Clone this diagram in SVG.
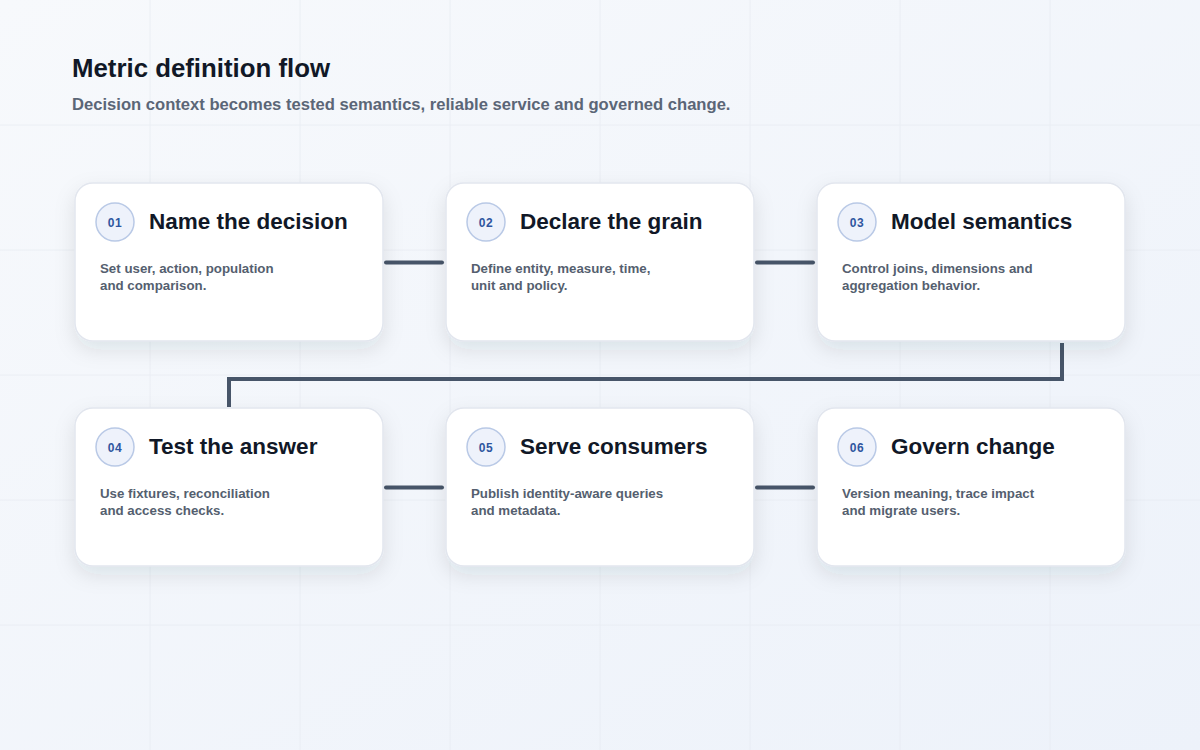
<svg xmlns="http://www.w3.org/2000/svg" width="1200" height="750" viewBox="0 0 1200 750">
<defs>
<linearGradient id="bg" x1="0" y1="0" x2="1" y2="1">
<stop offset="0" stop-color="#f7f9fc"/>
<stop offset="1" stop-color="#edf2fa"/>
</linearGradient>
<filter id="sh" x="-20%" y="-20%" width="140%" height="160%">
<feDropShadow dx="0" dy="8" stdDeviation="10" flood-color="#1e293b" flood-opacity="0.10"/>
</filter>
<style>
.card{fill:#ffffff;stroke:#e2e6ee;stroke-width:1.5}
.badge{fill:#eef2fb;stroke:#b9c9e6;stroke-width:1.5}
.num{font-family:"Liberation Sans",Arial,sans-serif;font-size:12px;font-weight:700;fill:#2f56a0;text-anchor:middle;letter-spacing:0.5px}
.title{font-family:"Liberation Sans",Arial,sans-serif;font-size:22.5px;font-weight:700;fill:#111827}
.body{font-family:"Liberation Sans",Arial,sans-serif;font-size:13.3px;font-weight:700;fill:#555f6f}
.conn{fill:none;stroke:#475569;stroke-width:4;stroke-linecap:round;stroke-linejoin:miter}
.grid{stroke:#e6eaf1;stroke-width:1}
</style>
</defs>
<rect width="1200" height="750" fill="url(#bg)"/>
<g id="grid" opacity="0.7">
<line class="grid" x1="150" y1="0" x2="150" y2="750"/>
<line class="grid" x1="300" y1="0" x2="300" y2="750"/>
<line class="grid" x1="450" y1="0" x2="450" y2="750"/>
<line class="grid" x1="600" y1="0" x2="600" y2="750"/>
<line class="grid" x1="750" y1="0" x2="750" y2="750"/>
<line class="grid" x1="900" y1="0" x2="900" y2="750"/>
<line class="grid" x1="1050" y1="0" x2="1050" y2="750"/>
<line class="grid" x1="0" y1="125" x2="1200" y2="125"/>
<line class="grid" x1="0" y1="250" x2="1200" y2="250"/>
<line class="grid" x1="0" y1="375" x2="1200" y2="375"/>
<line class="grid" x1="0" y1="500" x2="1200" y2="500"/>
<line class="grid" x1="0" y1="625" x2="1200" y2="625"/>
</g>
<g id="header">
<text x="72" y="77" font-family="Liberation Sans, Arial, sans-serif" font-size="25.8" font-weight="700" fill="#111827">Metric definition flow</text>
<text x="72" y="110" font-family="Liberation Sans, Arial, sans-serif" font-size="16.6" font-weight="700" fill="#5b6677">Decision context becomes tested semantics, reliable service and governed change.</text>
</g>
<g id="connectors">
<line class="conn" x1="386" y1="262.5" x2="442" y2="262.5"/>
<line class="conn" x1="757" y1="262.5" x2="813" y2="262.5"/>
<path class="conn" style="stroke-linecap:butt" d="M1062 343 V379 H229 V407"/>
<line class="conn" x1="386" y1="487.5" x2="442" y2="487.5"/>
<line class="conn" x1="757" y1="487.5" x2="813" y2="487.5"/>
</g>
<g id="node1">
<rect class="card" filter="url(#sh)" x="75" y="183" width="308" height="158" rx="18"/>
<circle class="badge" cx="115" cy="222" r="19"/>
<text class="num" x="115" y="226.5">01</text>
<text class="title" x="149" y="229">Name the decision</text>
<text class="body" x="100" y="273">Set user, action, population</text>
<text class="body" x="100" y="290">and comparison.</text>
</g>
<g id="node2">
<rect class="card" filter="url(#sh)" x="446" y="183" width="308" height="158" rx="18"/>
<circle class="badge" cx="486" cy="222" r="19"/>
<text class="num" x="486" y="226.5">02</text>
<text class="title" x="520" y="229">Declare the grain</text>
<text class="body" x="471" y="273">Define entity, measure, time,</text>
<text class="body" x="471" y="290">unit and policy.</text>
</g>
<g id="node3">
<rect class="card" filter="url(#sh)" x="817" y="183" width="308" height="158" rx="18"/>
<circle class="badge" cx="857" cy="222" r="19"/>
<text class="num" x="857" y="226.5">03</text>
<text class="title" x="891" y="229">Model semantics</text>
<text class="body" x="842" y="273">Control joins, dimensions and</text>
<text class="body" x="842" y="290">aggregation behavior.</text>
</g>
<g id="node4">
<rect class="card" filter="url(#sh)" x="75" y="408" width="308" height="158" rx="18"/>
<circle class="badge" cx="115" cy="447" r="19"/>
<text class="num" x="115" y="451.5">04</text>
<text class="title" x="149" y="454">Test the answer</text>
<text class="body" x="100" y="498">Use fixtures, reconciliation</text>
<text class="body" x="100" y="515">and access checks.</text>
</g>
<g id="node5">
<rect class="card" filter="url(#sh)" x="446" y="408" width="308" height="158" rx="18"/>
<circle class="badge" cx="486" cy="447" r="19"/>
<text class="num" x="486" y="451.5">05</text>
<text class="title" x="520" y="454">Serve consumers</text>
<text class="body" x="471" y="498">Publish identity-aware queries</text>
<text class="body" x="471" y="515">and metadata.</text>
</g>
<g id="node6">
<rect class="card" filter="url(#sh)" x="817" y="408" width="308" height="158" rx="18"/>
<circle class="badge" cx="857" cy="447" r="19"/>
<text class="num" x="857" y="451.5">06</text>
<text class="title" x="891" y="454">Govern change</text>
<text class="body" x="842" y="498">Version meaning, trace impact</text>
<text class="body" x="842" y="515">and migrate users.</text>
</g>
</svg>
